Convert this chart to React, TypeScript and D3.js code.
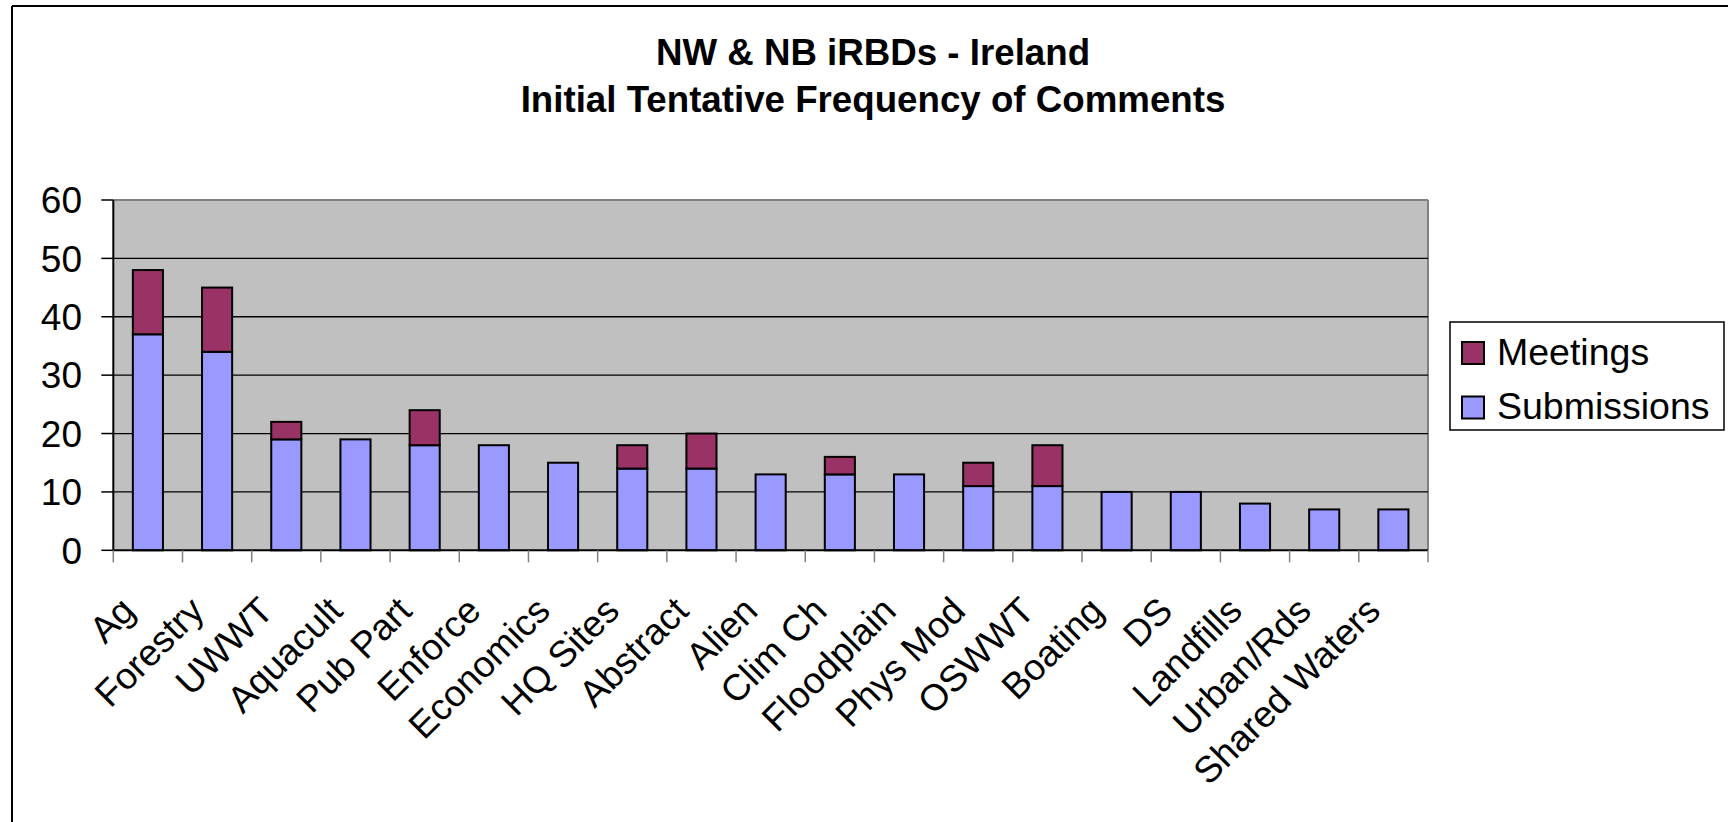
import React from "react";
import * as d3 from "d3";

const categories = ["Ag","Forestry","UWWT","Aquacult","Pub Part","Enforce","Economics","HQ Sites","Abstract","Alien","Clim Ch","Floodplain","Phys Mod","OSWWT","Boating","DS","Landfills","Urban/Rds","Shared Waters"];
const submissions = [37,34,19,19,18,18,15,14,14,13,13,13,11,11,10,10,8,7,7];
const meetings = [11,11,3,0,6,0,0,4,6,0,3,0,4,7,0,0,0,0,0];
const yTicks = [0,10,20,30,40,50,60];
const seriesNames = ["Meetings","Submissions"];
const colors = { Meetings: "#993366", Submissions: "#9999FF" };

const W = 1728, H = 822;
const plot = { left: 113.3, right: 1428, top: 200, bottom: 550.3 };
const FONT = "'Liberation Sans', Arial, Helvetica, sans-serif";

export default function App() {
  const x = d3.scaleBand<string>().domain(categories).range([plot.left, plot.right]).paddingInner(0.565).paddingOuter(0.2825);
  const y = d3.scaleLinear().domain([0, 60]).range([plot.bottom, plot.top]);
  const step = x.step();
  const bw = x.bandwidth();
  const boundaries = d3.range(categories.length + 1).map(i => plot.left + i * step);

  return (
    <svg width={W} height={H} style={{ position: "absolute", left: 0, top: 0, background: "#fff" }} fontFamily={FONT}>
      <rect x={0} y={0} width={W} height={H} fill="#fff" />
      {/* outer frame */}
      <line x1={12} y1={6} x2={W} y2={6} stroke="#000" strokeWidth={2} />
      <line x1={12} y1={6} x2={12} y2={H} stroke="#000" strokeWidth={2} />

      {/* title */}
      <text x={873} y={65} textAnchor="middle" fontSize={36.7} fontWeight="bold">NW &amp; NB iRBDs - Ireland</text>
      <text x={873} y={112} textAnchor="middle" fontSize={36.7} fontWeight="bold">Initial Tentative Frequency of Comments</text>

      {/* plot area */}
      <rect x={plot.left} y={plot.top} width={plot.right - plot.left} height={plot.bottom - plot.top} fill="#C0C0C0" />
      <line x1={plot.left} y1={plot.top} x2={plot.right} y2={plot.top} stroke="#808080" strokeWidth={2} />
      <line x1={plot.right} y1={plot.top} x2={plot.right} y2={plot.bottom} stroke="#808080" strokeWidth={2} />
      {yTicks.filter(t => t > 0 && t < 60).map(t => (
        <line key={"g" + t} x1={plot.left} x2={plot.right} y1={y(t)} y2={y(t)} stroke="#000" strokeWidth={1.3} />
      ))}

      {/* bars */}
      {categories.map((c, i) => {
        const x0 = x(c)!;
        return (
          <g key={c}>
            <rect x={x0} y={y(submissions[i])} width={bw} height={y(0) - y(submissions[i])} fill={colors.Submissions} stroke="#000" strokeWidth={2} />
            {meetings[i] > 0 && (
              <rect x={x0} y={y(submissions[i] + meetings[i])} width={bw} height={y(submissions[i]) - y(submissions[i] + meetings[i])} fill={colors.Meetings} stroke="#000" strokeWidth={2} />
            )}
          </g>
        );
      })}

      {/* axes */}
      <line x1={plot.left} y1={plot.top} x2={plot.left} y2={plot.bottom} stroke="#000" strokeWidth={2} />
      <line x1={plot.left} y1={plot.bottom} x2={plot.right} y2={plot.bottom} stroke="#000" strokeWidth={2} />
      {yTicks.map(t => (
        <g key={"y" + t}>
          <line x1={plot.left - 12} x2={plot.left} y1={y(t)} y2={y(t)} stroke="#000" strokeWidth={1.5} />
          <text x={82} y={y(t)} dy="0.36em" textAnchor="end" fontSize={37}>{t}</text>
        </g>
      ))}
      {boundaries.map((bx, i) => (
        <line key={"xt" + i} x1={bx} x2={bx} y1={plot.bottom} y2={plot.bottom + 12} stroke="#808080" strokeWidth={1.5} />
      ))}
      {categories.map(c => {
        const cx = x(c)! + bw / 2;
        return (
          <text key={"l" + c} transform={`translate(${cx - 11},${613}) rotate(-45)`} textAnchor="end" fontSize={37}>{c}</text>
        );
      })}

      {/* legend */}
      <rect x={1450} y={322} width={274} height={108} fill="#fff" stroke="#000" strokeWidth={1.5} />
      {seriesNames.map((s, i) => (
        <g key={s}>
          <rect x={1462} y={342 + i * 54.5} width={22} height={22} fill={colors[s as keyof typeof colors]} stroke="#000" strokeWidth={2} />
          <text x={1497} y={365 + i * 53.5} fontSize={37.5}>{s}</text>
        </g>
      ))}
    </svg>
  );
}
